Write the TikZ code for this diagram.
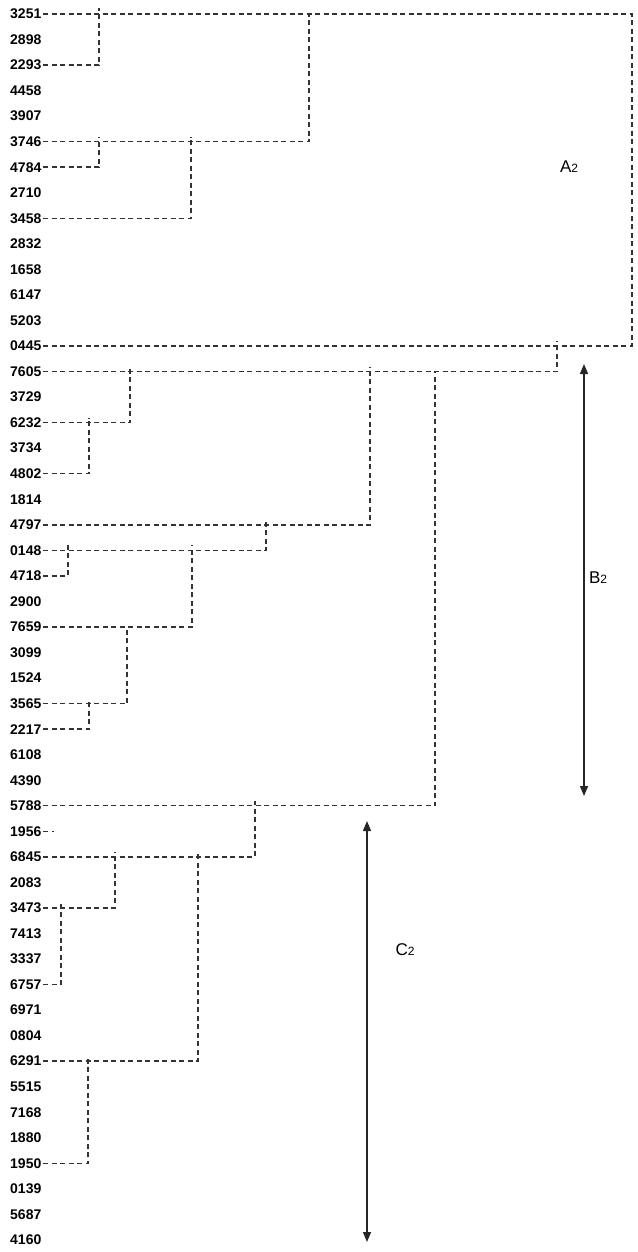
\documentclass[tikz,border=0pt]{standalone}
\usepackage{fontspec}
\setmainfont{Liberation Sans}
\usetikzlibrary{arrows.meta}
\newcommand\rowy[1]{14+25.54*#1}
\begin{document}
\begin{tikzpicture}[x=1pt,y=-1pt,
  lab/.style={anchor=west,inner xsep=1.5pt,inner ysep=0pt,font=\fontsize{14}{14}\selectfont\bfseries},
  dl/.style={dash pattern=on 5pt off 3.5pt,line width=1.5pt,black!80},
  dbl/.style={line width=1.4pt,black!85,{Triangle[length=10pt,width=8pt]}-{Triangle[length=10pt,width=8pt]}},
  grp/.style={font=\fontsize{17}{17}\selectfont,inner sep=0pt}]
\useasboundingbox (0,0) rectangle (637,1252);
\foreach \lab [count=\i from 0] in {3251,2898,2293,4458,3907,3746,4784,2710,3458,2832,1658,6147,5203,0445,7605,3729,6232,3734,4802,1814,4797,0148,4718,2900,7659,3099,1524,3565,2217,6108,4390,5788,1956,6845,2083,3473,7413,3337,6757,6971,0804,6291,5515,7168,1880,1950,0139,5687,4160}
  \node[lab] (n\lab) at (8.5,{\rowy{\i}}) {\lab};
% junction coordinates
\coordinate (jbox) at (632,{\rowy{0}});
\coordinate (j2) at (99,{\rowy{0}});
\coordinate (j3) at (309,{\rowy{0}});
\coordinate (j4) at (99,{\rowy{5}});
\coordinate (j5) at (191,{\rowy{5}});
\coordinate (j6) at (557,{\rowy{13}});
\coordinate (j7) at (130,{\rowy{14}});
\coordinate (j8) at (370,{\rowy{14}});
\coordinate (j9) at (435,{\rowy{14}});
\coordinate (j10) at (89,{\rowy{16}});
\coordinate (j11) at (266,{\rowy{20}});
\coordinate (j12) at (68,{\rowy{21}});
\coordinate (j13) at (192,{\rowy{21}});
\coordinate (j14) at (127,{\rowy{24}});
\coordinate (j15) at (89,{\rowy{27}});
\coordinate (j16) at (255,{\rowy{31}});
\coordinate (j17) at (115,{\rowy{33}});
\coordinate (j18) at (198,{\rowy{33}});
\coordinate (j19) at (61,{\rowy{35}});
\coordinate (j20) at (88,{\rowy{41}});
\coordinate (e1956) at (54,{\rowy{32}});
% dendrogram
\draw[dl] (n3251.east) -- (jbox) |- (n0445.east);
\draw[dl] (n2293.east) -| ([yshift=6pt]j2);
\draw[dl] (n3746.east) -| (j3);
\draw[dl] (n4784.east) -| ([yshift=5pt]j4);
\draw[dl] (n3458.east) -| ([yshift=5pt]j5);
\draw[dl] (n7605.east) -| ([yshift=5pt]j6);
\draw[dl] (n6232.east) -| ([yshift=5pt]j7);
\draw[dl] (n4797.east) -| ([yshift=5pt]j8);
\draw[dl] (n5788.east) -| (j9);
\draw[dl] (n4802.east) -| ([yshift=5pt]j10);
\draw[dl] (n0148.east) -| ([yshift=5pt]j11);
\draw[dl] (n4718.east) -| ([yshift=5pt]j12);
\draw[dl] (n7659.east) -| ([yshift=5pt]j13);
\draw[dl] (n3565.east) -| (j14);
\draw[dl] (n2217.east) -| ([yshift=5pt]j15);
\draw[dl] (n6845.east) -| ([yshift=5pt]j16);
\draw[dl] (n3473.east) -| ([yshift=5pt]j17);
\draw[dl] (n6291.east) -| ([yshift=5pt]j18);
\draw[dl] (n6757.east) -| ([yshift=4pt]j19);
\draw[dl] (n1950.east) -| ([yshift=5pt]j20);
\draw[dl] (n1956.east) -- (e1956);
% group arrows
\coordinate (b1) at (584,364);
\coordinate (b2) at (584,796);
\coordinate (c1) at (367,821);
\coordinate (c2) at (367,1242);
\draw[dbl] (b1) -- (b2);
\draw[dbl] (c1) -- (c2);
\node[grp] (A2) at (569,167) {A{\fontsize{12}{12}\selectfont 2}};
\node[grp] (B2) at (598,578) {B{\fontsize{12}{12}\selectfont 2}};
\node[grp] (C2) at (405,950) {C{\fontsize{12}{12}\selectfont 2}};
\end{tikzpicture}
\end{document}
